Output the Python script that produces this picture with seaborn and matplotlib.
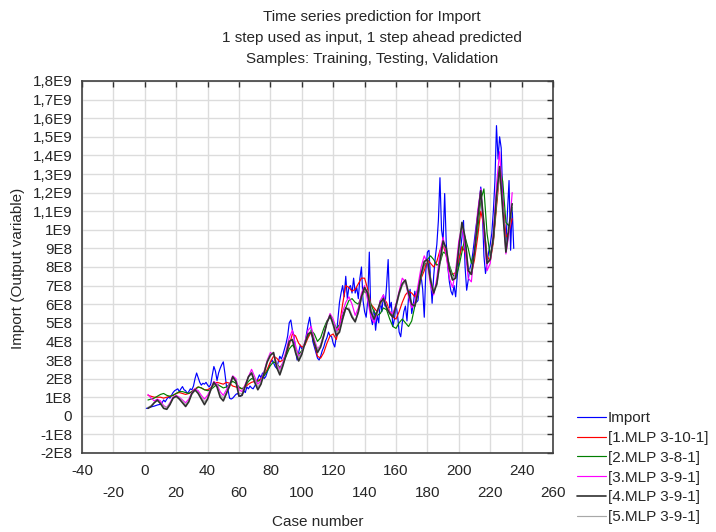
import numpy as np
import pandas as pd
import matplotlib
matplotlib.use('Agg')
import matplotlib.pyplot as plt
import seaborn as sns

# values are in units of 1E8
import_cases = list(range(1, 236))
import_vals = [0.40, 0.42, 0.45, 0.48, 0.50, 0.52, 0.55, 0.58, 0.60, 0.62,
               0.70, 0.85, 0.75, 0.90, 1.00, 0.95, 1.10, 1.25, 1.35, 1.40,
               1.45, 1.30, 1.45, 1.57, 1.40, 1.35, 1.20, 1.30, 1.45, 1.40,
               1.60, 2.00, 2.30, 2.05, 1.80, 1.65, 1.75, 1.70, 1.80, 1.65,
               1.55, 1.70, 2.20, 2.65, 2.40, 1.90, 2.30, 2.55, 2.75, 2.90,
               2.30, 1.60, 1.40, 0.95, 0.90, 0.95, 1.05, 1.15, 1.20, 1.10,
               1.05, 1.15, 1.35, 1.25, 1.55, 1.45, 1.60, 1.50, 1.45, 1.60,
               1.75, 2.00, 2.20, 2.05, 2.30, 2.00, 2.10, 2.35, 2.60, 2.85,
               3.00, 2.85, 2.65, 2.55, 2.90, 3.20, 3.05, 3.30, 3.60, 3.90,
               4.30, 5.00, 5.15, 4.60, 4.30, 3.50, 3.00, 3.40, 3.80, 3.60,
               3.70, 3.90, 4.40, 4.90, 5.30, 4.70, 4.00, 3.70, 3.40, 3.10,
               3.00, 3.20, 3.50, 3.70, 4.00, 4.20, 4.50, 4.30, 4.25, 3.90,
               3.70, 4.30, 5.20, 6.10, 6.60, 7.00, 6.40, 7.50, 6.30, 6.90,
               7.00, 6.60, 7.40, 6.60, 6.90, 6.30, 7.40, 8.00, 6.20, 5.60,
               5.30, 6.20, 8.80, 5.30, 4.90, 5.70, 4.60, 5.40, 5.00, 6.20,
               5.60, 6.50, 5.90, 7.00, 8.40, 5.80, 6.10, 4.80, 5.20, 6.00,
               5.40, 4.50, 4.25, 5.00, 5.60, 5.90, 5.10, 6.40, 6.80, 5.50,
               6.00, 6.70, 6.10, 6.20, 7.00, 7.50, 6.80, 5.30, 7.80, 8.80,
               8.90, 7.40, 6.05, 7.50, 8.50, 9.20, 10.50, 12.80, 10.00, 9.40,
               11.95, 9.30, 8.00, 7.20, 6.70, 6.50, 7.00, 6.40, 7.50, 8.30,
               8.80, 9.60, 10.50, 8.00, 6.75, 7.30, 7.90, 8.20, 8.80, 9.50,
               10.20, 10.80, 11.50, 12.30, 11.00, 8.60, 7.65, 8.20, 8.80, 9.20,
               9.80, 11.00, 12.60, 15.60, 13.80, 15.00, 14.40, 11.75, 10.50, 9.30,
               11.00, 12.65, 8.90, 11.20, 9.00]

pred_cases = list(range(2, 235, 2))
mlp1_vals = [1.10, 1.05, 1.00, 1.00, 1.00, 0.95, 1.00, 1.05, 1.10, 1.20,
             1.25, 1.20, 1.15, 1.20, 1.30, 1.45, 1.55, 1.50, 1.40, 1.40,
             1.50, 1.70, 1.80, 1.75, 1.70, 1.80, 1.75, 1.60, 1.55, 1.50,
             1.45, 1.55, 1.70, 1.80, 1.85, 1.90, 2.00, 2.20, 2.50, 2.90,
             3.20, 3.10, 2.90, 3.00, 3.30, 3.80, 4.40, 4.30, 3.90, 3.70,
             3.80, 4.20, 4.50, 3.90, 3.20, 3.10, 3.40, 3.90, 4.30, 4.40,
             4.10, 4.90, 6.00, 7.00, 6.90, 6.70, 6.80, 7.10, 7.40, 7.40,
             6.80, 6.00, 5.80, 5.60, 6.00, 6.30, 6.10, 5.60, 5.30, 5.20,
             5.60, 6.10, 6.50, 6.70, 6.60, 6.40, 6.80, 7.40, 7.80, 8.40,
             8.20, 8.00, 8.30, 8.90, 9.20, 8.60, 7.80, 7.60, 7.70, 8.40,
             9.10, 8.80, 7.90, 7.60, 8.40, 9.60, 11.00, 10.20, 8.60, 8.30,
             9.30, 11.20, 13.00, 11.60, 9.60, 9.90, 10.60]
mlp2_vals = [0.85, 0.90, 0.95, 1.05, 1.15, 1.20, 1.10, 1.05, 1.10, 1.20,
             1.30, 1.30, 1.25, 1.20, 1.30, 1.40, 1.55, 1.50, 1.40, 1.35,
             1.40, 1.55, 1.70, 1.60, 1.50, 1.55, 1.70, 1.85, 1.75, 1.55,
             1.45, 1.60, 1.85, 2.00, 1.95, 1.85, 1.95, 2.15, 2.40, 2.70,
             2.90, 2.80, 2.60, 2.80, 3.20, 3.60, 3.80, 3.60, 3.30, 3.50,
             3.90, 4.30, 4.60, 4.40, 4.00, 4.20, 4.70, 5.10, 5.30, 5.10,
             4.70, 4.90, 5.40, 5.80, 6.20, 6.30, 6.10, 6.00, 6.40, 6.70,
             6.50, 6.00, 5.60, 5.40, 5.50, 5.80, 5.70, 5.20, 4.80, 4.70,
             5.00, 5.20, 5.00, 4.80, 5.10, 5.90, 6.80, 7.50, 8.10, 8.40,
             8.60, 8.40, 8.10, 8.20, 8.80, 8.70, 8.10, 7.60, 7.40, 8.00,
             8.80, 9.60, 9.00, 8.20, 8.80, 10.00, 11.60, 12.20, 9.80, 8.60,
             9.40, 11.40, 13.40, 12.60, 10.40, 10.20, 11.20]
mlp3_vals = [1.15, 0.95, 0.80, 0.90, 0.80, 0.55, 0.45, 0.70, 1.00, 1.10,
             1.00, 0.85, 0.70, 0.90, 1.25, 1.45, 1.35, 1.10, 0.90, 1.10,
             1.45, 1.85, 1.70, 1.30, 1.10, 1.40, 1.70, 2.15, 2.00, 1.40,
             1.30, 1.70, 2.10, 2.50, 2.10, 1.70, 1.90, 2.40, 3.00, 3.40,
             3.30, 2.80, 2.50, 2.90, 3.50, 4.20, 4.60, 3.80, 3.20, 3.40,
             4.00, 4.60, 4.80, 4.10, 3.60, 3.80, 4.40, 5.00, 5.50, 5.20,
             4.60, 4.80, 5.60, 6.10, 6.40, 6.00, 5.40, 5.80, 6.60, 7.00,
             6.20, 5.30, 5.00, 5.50, 6.20, 6.50, 5.90, 5.60, 5.50, 6.00,
             6.70, 7.40, 7.20, 6.40, 5.80, 6.10, 7.00, 8.00, 8.60, 8.20,
             7.00, 6.50, 7.40, 8.80, 9.60, 8.60, 7.40, 6.90, 7.80, 9.40,
             10.20, 9.00, 7.40, 7.20, 9.00, 11.00, 12.20, 9.80, 7.80, 8.20,
             9.80, 12.40, 14.20, 11.50, 8.70, 9.80, 12.00]
mlp4_vals = [0.40, 0.50, 0.70, 0.85, 0.65, 0.40, 0.35, 0.60, 0.95, 1.05,
             0.90, 0.70, 0.50, 0.75, 1.20, 1.40, 1.20, 0.90, 0.60, 0.90,
             1.40, 1.80, 1.55, 1.00, 0.80, 1.20, 1.60, 2.10, 1.85, 1.05,
             1.10, 1.60, 2.10, 2.30, 1.80, 1.40, 1.70, 2.30, 2.90, 3.25,
             3.40, 2.60, 2.20, 2.70, 3.30, 4.00, 4.10, 3.40, 2.95, 3.30,
             3.90, 4.40, 4.50, 3.90, 3.40, 3.70, 4.30, 5.00, 5.40, 4.90,
             4.30, 4.50, 5.20, 5.80, 5.70, 5.30, 5.05, 5.60, 6.40, 6.90,
             6.60, 5.60, 5.20, 5.60, 6.10, 6.30, 5.80, 5.50, 5.30, 5.90,
             6.60, 7.10, 7.30, 6.60, 6.00, 5.90, 6.60, 7.60, 8.30, 8.40,
             7.30, 6.60, 7.10, 8.30, 9.40, 9.00, 7.90, 7.30, 7.40, 9.00,
             10.40, 9.60, 7.80, 7.60, 8.80, 10.60, 12.10, 10.30, 8.20, 8.40,
             9.60, 11.80, 13.40, 11.00, 8.80, 10.20, 11.40]
mlp5_vals = [0.45, 0.55, 0.70, 0.80, 0.70, 0.50, 0.45, 0.65, 0.95, 1.05,
             0.95, 0.80, 0.60, 0.80, 1.15, 1.35, 1.25, 1.00, 0.75, 0.95,
             1.35, 1.75, 1.60, 1.15, 0.95, 1.25, 1.60, 2.05, 1.90, 1.20,
             1.20, 1.60, 2.05, 2.35, 1.95, 1.55, 1.80, 2.35, 2.95, 3.30,
             3.35, 2.75, 2.35, 2.80, 3.35, 3.95, 4.10, 3.55, 3.10, 3.40,
             3.95, 4.40, 4.55, 4.00, 3.55, 3.80, 4.35, 5.00, 5.40, 5.00,
             4.45, 4.60, 5.20, 5.75, 5.80, 5.40, 5.10, 5.50, 6.30, 6.80,
             6.70, 5.80, 5.30, 5.50, 6.00, 6.30, 5.90, 5.50, 5.30, 5.80,
             6.50, 7.00, 7.20, 6.60, 6.00, 5.90, 6.50, 7.50, 8.20, 8.30,
             7.40, 6.80, 7.00, 8.20, 9.20, 9.00, 8.00, 7.40, 7.50, 8.90,
             10.20, 9.60, 7.90, 7.70, 8.70, 10.50, 11.90, 10.40, 8.30, 8.40,
             9.50, 11.60, 13.00, 11.20, 9.00, 10.00, 11.20]

series_names = ['Import', '[1.MLP 3-10-1]', '[2.MLP 3-8-1]', '[3.MLP 3-9-1]',
                '[4.MLP 3-9-1]', '[5.MLP 3-9-1]']
series_colors = ['#0000ff', '#ff0000', '#008000', '#ff00ff', '#303030', '#a8a8a8']

y_ticks = list(range(-2, 19))
y_labels = ['-2E8', '-1E8', '0', '1E8', '2E8', '3E8', '4E8', '5E8', '6E8', '7E8',
            '8E8', '9E8', '1E9', '1,1E9', '1,2E9', '1,3E9', '1,4E9', '1,5E9',
            '1,6E9', '1,7E9', '1,8E9']
x_major = list(range(-40, 241, 40))
x_minor = list(range(-20, 261, 40))

sns.set_style('white')
plt.rcParams['font.family'] = ['Liberation Sans', 'DejaVu Sans']

fig = plt.figure(figsize=(7.16, 5.32), dpi=100)
ax = fig.add_axes([82/716, 1-453/532, 471/716, 372/532])

all_vals = [import_vals, mlp1_vals, mlp2_vals, mlp3_vals, mlp4_vals, mlp5_vals]
for i, (name, vals) in enumerate(zip(series_names, all_vals)):
    xs = import_cases if i == 0 else pred_cases
    df = pd.DataFrame({'case': xs, 'value': vals})
    lw = 1.2 if i == 4 else 0.85
    sns.lineplot(data=df, x='case', y='value', color=series_colors[i],
                 linewidth=lw, estimator=None, ax=ax, label=name,
                 zorder=3 if i == 4 else 2)

ax.set_xlim(-40, 260)
ax.set_ylim(-2, 18)
ax.set_xticks(x_major)
ax.set_xticklabels([str(v) for v in x_major])
ax.set_xticks(x_minor, minor=True)
ax.set_xticklabels([str(v) for v in x_minor], minor=True)
ax.set_yticks(y_ticks)
ax.set_yticklabels(y_labels)
ax.tick_params(which='both', direction='in', top=True, right=True,
               length=4, width=1, color='#303030', labelsize=11)
ax.tick_params(axis='x', which='major', pad=8)
ax.tick_params(axis='x', which='minor', pad=24)
ax.tick_params(axis='y', pad=7)
ax.grid(True, which='both', color='#dcdcdc', linewidth=1.0)
ax.set_axisbelow(True)
for sp in ax.spines.values():
    sp.set_color('#404040')
    sp.set_linewidth(1.2)

ax.set_xlabel('')
ax.set_ylabel('')
fig.text(318/716, 1-522/532, 'Case number', ha='center', va='center', fontsize=11)
fig.text(18/716, 1-268/532, 'Import (Output variable)', ha='center', va='center',
         rotation=90, fontsize=11)

fig.text(372/716, 1-17/532, 'Time series prediction for Import', ha='center',
         va='center', fontsize=11)
fig.text(372/716, 1-38/532, '1 step used as input, 1 step ahead predicted',
         ha='center', va='center', fontsize=11)
fig.text(372/716, 1-59/532, 'Samples: Training, Testing, Validation',
         ha='center', va='center', fontsize=11)

h, l = ax.get_legend_handles_labels()
ax.get_legend().remove()
fig.legend(h, l, loc='upper left', bbox_to_anchor=(571/716, 1-405/532),
           frameon=False, fontsize=11, handlelength=1.9, handletextpad=0.1,
           labelspacing=0.38, borderaxespad=0)

fig.savefig('out.png', dpi=100)
